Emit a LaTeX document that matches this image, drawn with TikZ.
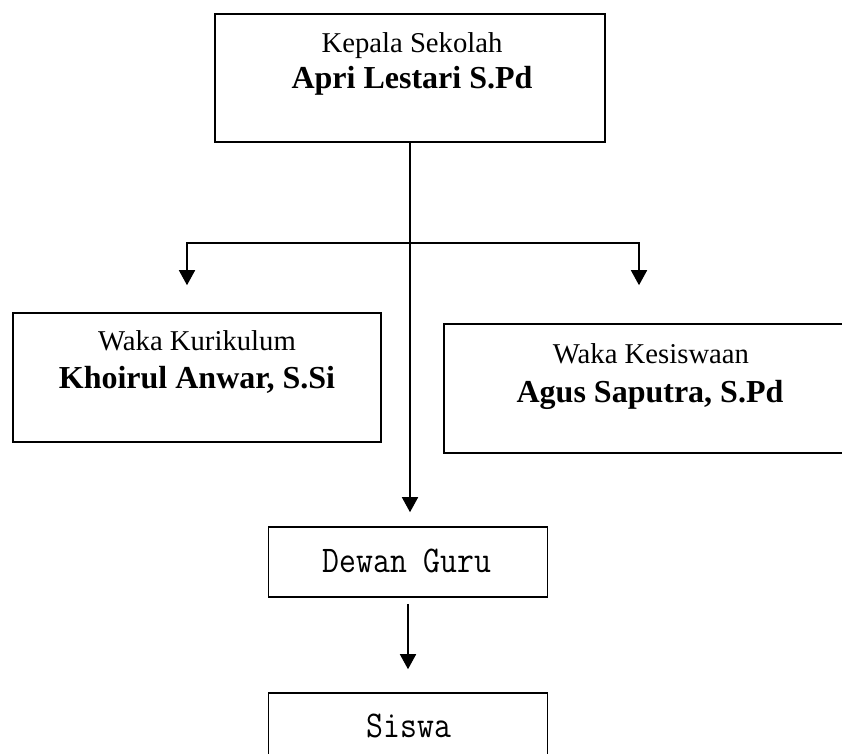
\documentclass[tikz,border=0pt]{standalone}
\usepackage{fontspec}
\setmainfont{Liberation Serif}
\usetikzlibrary{arrows.meta}
\begin{document}
\begin{tikzpicture}[x=1pt,y=-1pt,
  box/.style={draw, line width=1.6pt, inner sep=0pt},
  reg/.style={anchor=base, inner sep=0pt, font=\fontsize{28.7}{34}\selectfont},
  bld/.style={anchor=base, inner sep=0pt, font=\fontsize{32}{38}\selectfont\bfseries},
  mono/.style={anchor=base, inner sep=0pt, font=\fontsize{32.8}{38}\ttfamily, yscale=1.15, transform shape},
  conn/.style={line width=1.6pt, line cap=rect},
  arr/.style={line width=1.6pt, -{Triangle[width=16pt,length=15pt]}}]
\useasboundingbox (0,0) rectangle (842,753);
\clip (0,0) rectangle (842,753);
% boxes
\node[box, minimum width=390pt, minimum height=128pt] (kepala) at (410,78) {};
\node[box, minimum width=368pt, minimum height=129pt] (kur) at (197,377.5) {};
\node[box, minimum width=412pt, minimum height=129pt] (kes) at (650,388.5) {};
\node[box, minimum width=279pt, minimum height=70pt] (dewan) at (408,562) {};
\node[box, minimum width=279pt, minimum height=70pt] (siswa) at (408,728) {};
% texts
\node[reg] (t1) at (412,52) {Kepala Sekolah};
\node[bld] (t2) at (412,88) {Apri Lestari S.Pd};
\node[reg] (t3) at (197,350) {Waka Kurikulum};
\node[bld] (t4) at (197,388) {Khoirul Anwar, S.Si};
\node[reg] (t5) at (651,363) {Waka Kesiswaan};
\node[bld] (t6) at (650,402) {Agus Saputra, S.Pd};
\node[mono] (t7) at (407,572) {Dewan Guru};
\node[mono] (t8) at (409,737) {Siswa};
% connectors
\draw[arr, shorten >=14pt] (kepala.south) -- (kepala.south |- dewan.north);
\coordinate (jl) at (187,243);
\coordinate (jr) at (639,243);
\draw[conn] (jl) -- (jr);
\draw[arr, shorten >=27pt] (jl) -- (jl |- kur.north);
\draw[arr, shorten >=38pt] (jr) -- (jr |- kes.north);
\draw[arr, shorten <=6pt, shorten >=23pt] (dewan.south) -- (siswa.north);
\end{tikzpicture}
\end{document}
